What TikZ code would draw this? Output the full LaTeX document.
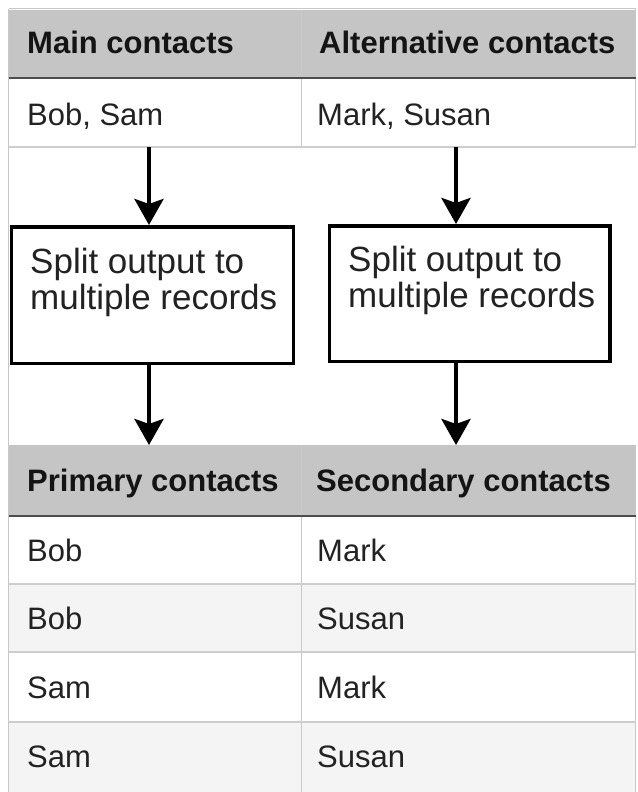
\documentclass[tikz,border=0pt]{standalone}
\usepackage{fontspec}
\setmainfont{Liberation Sans}
\usetikzlibrary{arrows.meta,calc}
\definecolor{hdr}{HTML}{C4C5C4}
\definecolor{altrow}{HTML}{F4F4F4}
\definecolor{gridc}{HTML}{CDCDCD}
\definecolor{borderc}{HTML}{C8C8C8}
\definecolor{thickc}{HTML}{4D4D4D}
\definecolor{txt}{HTML}{222222}
\tikzset{
  cellbox/.style={draw=none, inner sep=0pt, outer sep=0pt, anchor=north west},
  hdrtxt/.style={anchor=base west, inner sep=0pt, font=\fontsize{31}{36}\selectfont\bfseries, text=black!92},
  bodytxt/.style={anchor=base west, inner sep=0pt, font=\fontsize{31}{36}\selectfont, text=txt},
  splitbox/.style={draw=black, line width=3.5pt, inner sep=0pt, fill=white},
  boxtxt/.style={anchor=base west, inner sep=0pt, font=\fontsize{35}{40}\selectfont, text=txt},
  flow/.style={line width=4.5pt, draw=black, -{Stealth[length=26pt,width=29pt,inset=5pt]}},
  gridline/.style={draw=gridc, line width=1.5pt},
  borderline/.style={draw=borderc, line width=1pt},
  hdrline/.style={draw=thickc, line width=2.5pt},
}
\begin{document}
\begin{tikzpicture}[x=1pt,y=-1pt]
\useasboundingbox[fill=white] (0,0) rectangle (637,792);

% ---------- top table ----------
\node[cellbox, fill=hdr, minimum width=292pt, minimum height=68pt] (h1a) at (9,10) {};
\node[cellbox, fill=hdr, minimum width=335pt, minimum height=68pt] (h1b) at (301,10) {};
\node[cellbox, fill=white, minimum width=292pt, minimum height=69pt] (r1a) at (9,78) {};
\node[cellbox, fill=white, minimum width=335pt, minimum height=69pt] (r1b) at (301,78) {};

\draw[borderline] (8.5,9) -- (636,9);
\draw[borderline] (8.5,9) -- (8.5,792);
\draw[borderline] (635.5,9) -- (635.5,147);
\draw[borderline] (301,10) -- (301,147);
\draw[hdrline] (9,78) -- (636,78);
\draw[gridline] (9,147) -- (636,147);

\node[hdrtxt] (t1) at (27,53) {Main contacts};
\node[hdrtxt] (t2) at (319,53) {Alternative contacts};
\node[bodytxt] (t3) at (27,125) {Bob, Sam};
\node[bodytxt] (t4) at (317,125) {Mark, Susan};

% ---------- split boxes ----------
\node[splitbox, minimum width=282pt, minimum height=136.5pt] (boxA) at (152.25,295) {};
\node[splitbox, minimum width=280.5pt, minimum height=135.5pt] (boxB) at (469.5,293.5) {};
\node[boxtxt] (ba1) at (30,273) {Split output to};
\node[boxtxt] (ba2) at (30,309) {multiple records};
\node[boxtxt] (bb1) at (348,271) {Split output to};
\node[boxtxt] (bb2) at (348,307) {multiple records};

% ---------- bottom table ----------
\node[cellbox, fill=hdr, minimum width=292pt, minimum height=71pt] (h2a) at (9,445) {};
\node[cellbox, fill=hdr, minimum width=335pt, minimum height=71pt] (h2b) at (301,445) {};
\node[cellbox, fill=white, minimum width=627pt, minimum height=68pt] (rA) at (9,516) {};
\node[cellbox, fill=altrow, minimum width=627pt, minimum height=68pt] (rB) at (9,584) {};
\node[cellbox, fill=white, minimum width=627pt, minimum height=70pt] (rC) at (9,652) {};
\node[cellbox, fill=altrow, minimum width=627pt, minimum height=70pt] (rD) at (9,722) {};

\draw[borderline] (635.5,445) -- (635.5,792);
\draw[borderline] (301,445) -- (301,792);
\draw[hdrline] (9,516) -- (636,516);
\draw[gridline] (9,584) -- (636,584);
\draw[gridline] (9,652) -- (636,652);
\draw[gridline] (9,722) -- (636,722);

\node[hdrtxt] (t5) at (27,491) {Primary contacts};
\node[hdrtxt] (t6) at (316,491) {Secondary contacts};
\node[bodytxt] (c1) at (27,561) {Bob};
\node[bodytxt] (c2) at (317,561) {Mark};
\node[bodytxt] (c3) at (27,629) {Bob};
\node[bodytxt] (c4) at (317,629) {Susan};
\node[bodytxt] (c5) at (27,698) {Sam};
\node[bodytxt] (c6) at (317,698) {Mark};
\node[bodytxt] (c7) at (27,767) {Sam};
\node[bodytxt] (c8) at (317,767) {Susan};

% ---------- arrows ----------
\coordinate (xa) at (149,0);
\coordinate (xb) at (456,0);
\draw[flow] (r1a.south -| xa) -- (boxA.north -| xa);
\draw[flow] (r1b.south -| xb) -- (boxB.north -| xb);
\draw[flow] (boxA.south -| xa) -- (h2a.north -| xa);
\draw[flow] (boxB.south -| xb) -- (h2b.north -| xb);
\end{tikzpicture}
\end{document}
